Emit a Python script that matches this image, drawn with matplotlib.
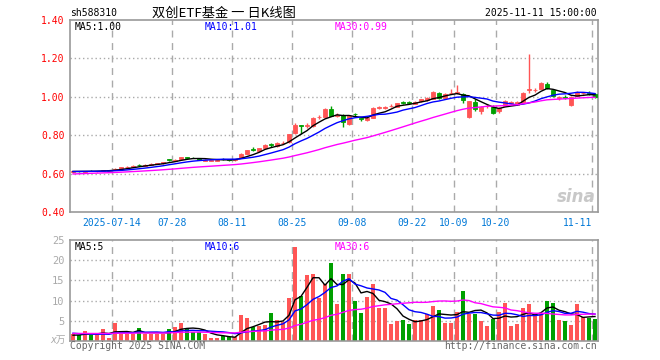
import matplotlib
matplotlib.use('Agg')
import matplotlib.pyplot as plt
import numpy as np
import pandas as pd

# trading days 2025-07-03 .. 2025-11-11 (National Day break removed)
holidays = ['2025-10-01', '2025-10-02', '2025-10-03', '2025-10-06', '2025-10-07', '2025-10-08']
dates = [d for d in pd.bdate_range('2025-07-03', '2025-11-11').strftime('%Y-%m-%d') if d not in holidays]

opens = [
    0.606, 0.612, 0.608, 0.616, 0.611, 0.613, 0.616, 0.618, 0.624, 0.634,
    0.634, 0.645, 0.642, 0.646, 0.650, 0.654, 0.674, 0.668, 0.674, 0.684,
    0.683, 0.680, 0.664, 0.666, 0.668, 0.677, 0.675, 0.671, 0.683, 0.702,
    0.727, 0.716, 0.731, 0.753, 0.742, 0.758, 0.762, 0.809, 0.851, 0.849,
    0.848, 0.893, 0.893, 0.938, 0.902, 0.905, 0.860, 0.912, 0.888, 0.877,
    0.890, 0.943, 0.942, 0.950, 0.948, 0.972, 0.971, 0.964, 0.977, 0.982,
    0.990, 1.022, 0.996, 1.018, 1.020, 1.013, 0.893, 0.973, 0.926, 0.950,
    0.949, 0.926, 0.952, 0.968, 0.958, 0.975, 1.036, 1.033, 1.043, 1.066,
    1.035, 0.994, 0.999, 0.958, 1.005, 1.018, 1.020, 1.014]
closes = [
    0.611, 0.611, 0.613, 0.614, 0.614, 0.617, 0.618, 0.625, 0.632, 0.636,
    0.641, 0.643, 0.647, 0.651, 0.655, 0.660, 0.672, 0.672, 0.685, 0.682,
    0.681, 0.673, 0.669, 0.670, 0.672, 0.675, 0.671, 0.674, 0.703, 0.721,
    0.724, 0.731, 0.750, 0.750, 0.760, 0.761, 0.805, 0.852, 0.848, 0.853,
    0.888, 0.897, 0.938, 0.902, 0.906, 0.868, 0.900, 0.909, 0.884, 0.890,
    0.943, 0.946, 0.946, 0.953, 0.966, 0.969, 0.968, 0.975, 0.988, 0.996,
    1.025, 0.996, 1.017, 1.022, 1.024, 0.985, 0.978, 0.938, 0.947, 0.953,
    0.917, 0.940, 0.978, 0.971, 0.974, 1.022, 1.040, 1.037, 1.070, 1.045,
    1.003, 0.997, 0.996, 1.000, 1.024, 1.021, 1.014, 0.998]
highs = [
    0.613, 0.616, 0.614, 0.618, 0.615, 0.618, 0.619, 0.627, 0.634, 0.640,
    0.643, 0.648, 0.649, 0.653, 0.656, 0.662, 0.678, 0.674, 0.688, 0.688,
    0.686, 0.682, 0.675, 0.672, 0.674, 0.679, 0.677, 0.676, 0.706, 0.724,
    0.738, 0.734, 0.753, 0.757, 0.762, 0.768, 0.808, 0.862, 0.853, 0.862,
    0.896, 0.905, 0.940, 0.952, 0.915, 0.908, 0.905, 0.918, 0.892, 0.894,
    0.946, 0.952, 0.950, 0.960, 0.968, 0.980, 0.976, 0.978, 0.990, 0.999,
    1.030, 1.025, 1.020, 1.040, 1.060, 1.018, 0.980, 0.987, 0.950, 0.960,
    0.955, 0.945, 0.982, 0.980, 0.978, 1.026, 1.222, 1.045, 1.075, 1.078,
    1.040, 1.003, 1.008, 1.003, 1.028, 1.027, 1.028, 1.022]
lows = [
    0.604, 0.607, 0.606, 0.612, 0.609, 0.611, 0.614, 0.617, 0.622, 0.630,
    0.632, 0.640, 0.640, 0.645, 0.648, 0.652, 0.668, 0.666, 0.672, 0.679,
    0.679, 0.670, 0.664, 0.664, 0.666, 0.670, 0.668, 0.668, 0.680, 0.700,
    0.716, 0.712, 0.728, 0.741, 0.738, 0.752, 0.758, 0.805, 0.808, 0.840,
    0.843, 0.885, 0.890, 0.898, 0.896, 0.842, 0.852, 0.895, 0.872, 0.873,
    0.888, 0.938, 0.938, 0.945, 0.946, 0.962, 0.962, 0.960, 0.974, 0.978,
    0.988, 0.990, 0.993, 1.012, 1.012, 0.970, 0.890, 0.924, 0.908, 0.940,
    0.910, 0.918, 0.950, 0.960, 0.955, 0.972, 1.022, 1.025, 1.040, 1.040,
    1.000, 0.982, 0.990, 0.953, 1.002, 1.012, 1.008, 0.993]
volumes = [
    1.8, 1.4, 2.4, 1.6, 1.6, 2.9, 0.75, 4.5, 1.8, 1.8,
    1.8, 3.2, 1.8, 1.8, 1.8, 1.8, 2.9, 3.5, 4.5, 2.9,
    2.2, 2.2, 1.7, 0.75, 0.75, 1.2, 1.0, 1.0, 6.4, 5.75,
    3.5, 3.75, 4.0, 7.0, 5.3, 4.75, 10.75, 23.25, 11.2, 16.4,
    16.7, 10.75, 14.1, 19.2, 9.2, 16.7, 16.7, 9.9, 7.0, 11.0,
    14.2, 8.25, 8.25, 4.2, 5.0, 5.2, 4.2, 5.2, 5.2, 6.7,
    8.75, 7.7, 4.5, 4.5, 7.25, 12.4, 6.8, 6.8, 5.0, 3.75,
    5.4, 7.25, 9.5, 3.75, 4.2, 8.25, 9.2, 6.7, 6.7, 10.0,
    9.5, 5.2, 4.9, 3.9, 9.2, 6.0, 5.8, 5.4]

# 29 sessions before the window, only used to seed the moving averages
hist_closes = [
    0.575, 0.578, 0.580, 0.583, 0.585, 0.584, 0.587, 0.590, 0.588, 0.592,
    0.594, 0.593, 0.596, 0.598, 0.597, 0.600, 0.602, 0.601, 0.604, 0.606,
    0.608, 0.610, 0.609, 0.611, 0.612, 0.610, 0.612, 0.613, 0.611]
hist_volumes = [
    1.9, 2.1, 1.7, 1.8, 2.2, 1.6, 1.9, 2.0, 1.5, 1.8,
    2.3, 1.7, 1.6, 1.9, 2.0, 1.8, 1.5, 1.7, 2.1, 1.9,
    2.4, 2.6, 2.2, 2.3, 2.5, 1.2, 1.4, 1.3, 1.5]

tick_dates = ['2025-07-14', '2025-07-28', '2025-08-11', '2025-08-25', '2025-09-08',
              '2025-09-22', '2025-10-09', '2025-10-20', '2025-11-11']
tick_labels = ['2025-07-14', '07-28', '08-11', '08-25', '09-08', '09-22', '10-09', '10-20', '11-11']
price_ticks = [0.40, 0.60, 0.80, 1.00, 1.20, 1.40]
vol_ticks = [5, 10, 15, 20, 25]

ma_labels = ['MA5:1.00', 'MA10:1.01', 'MA30:0.99']
vol_ma_labels = ['MA5:5', 'MA10:6', 'MA30:6']

RED = '#ff5555'
GREEN = '#00a000'
GRID = '#aaaaaa'
MONO = 'DejaVu Sans Mono'

n = len(dates)
x = np.arange(n)
o = np.array(opens); c = np.array(closes)
h = np.array(highs); l = np.array(lows)
v = np.array(volumes)
up = c >= o
cols = np.where(up, RED, GREEN)

all_c = pd.Series(hist_closes + closes)
all_v = pd.Series(hist_volumes + volumes)
ma_cols = ['black', '#0000ff', '#ff00ff']
ma_win = [5, 10, 30]

W, H = 660, 360
fig = plt.figure(figsize=(W / 100, H / 100), dpi=100)
ax = fig.add_axes([70 / W, 1 - 212 / H, 528 / W, 192 / H])
axv = fig.add_axes([70 / W, 1 - 341 / H, 528 / W, 101 / H])

def px(xp, yp):
    return xp / W, 1 - yp / H

tick_pos = [dates.index(d) - 0.5 for d in tick_dates]

for a in (ax, axv):
    a.set_xlim(-0.5, n - 0.5)
    for s in a.spines.values():
        s.set_color('#999999')
        s.set_linewidth(1.2)
    for t in tick_pos:
        a.axvline(t, color=GRID, lw=1, ls=(0, (5, 4)), zorder=0)
    a.tick_params(length=0)

# price panel
ax.set_ylim(0.4, 1.4)
for yv in price_ticks[1:-1]:
    ax.axhline(yv, color=GRID, lw=1, ls=(0, (1, 2)), zorder=0)
ax.vlines(x, l, h, colors=cols, lw=1, zorder=2)
ax.bar(x, np.abs(c - o), bottom=np.minimum(o, c), width=0.8, color=cols,
       edgecolor=cols, linewidth=0.6, zorder=3)
for w, mc in zip(ma_win, ma_cols):
    ma = all_c.rolling(w, min_periods=1).mean().to_numpy()[-n:]
    ax.plot(x, ma, color=mc, lw=1, zorder=4)
ax.set_yticks(price_ticks)
ax.set_yticklabels([f'{t:.2f}' for t in price_ticks], color='red', fontsize=7, family=MONO)
ax.set_xticks(tick_pos)
ax.set_xticklabels(tick_labels, color='#0078d7', fontsize=7, family=MONO)
ax.get_xticklabels()[-1].set_ha('right')
ax.tick_params(axis='x', pad=4)
ax.tick_params(axis='y', pad=4)
ax.text(0.995, 0.03, 'sina', transform=ax.transAxes, ha='right', va='bottom',
        fontsize=12, fontweight='bold', style='italic', color='#c8c8c8', zorder=1)

# volume panel
axv.set_ylim(0, 25)
for yv in vol_ticks[:-1]:
    axv.axhline(yv, color=GRID, lw=1, ls=(0, (1, 2)), zorder=0)
axv.bar(x, v, width=0.8, color=cols, zorder=2)
for w, mc in zip(ma_win, ma_cols):
    ma = all_v.rolling(w, min_periods=1).mean().to_numpy()[-n:]
    axv.plot(x, ma, color=mc, lw=1, zorder=3)
axv.set_xticks(tick_pos)
axv.set_xticklabels([])
axv.set_yticks(vol_ticks)
axv.set_yticklabels([str(t) for t in vol_ticks], color='#aaaaaa', fontsize=7.5, family=MONO)
axv.tick_params(axis='y', pad=4)

# header and legends
fig.text(*px(70, 13), 'sh588310', fontsize=7, family=MONO, va='center')
fig.text(*px(224, 13), '双创ETF基金 一 日K线图', fontsize=9.5, va='center', ha='center',
         family=['Noto Sans CJK SC', 'DejaVu Sans'])
fig.text(*px(597, 13), '2025-11-11 15:00:00', fontsize=7, family=MONO, va='center', ha='right')

for xp, lab, mc in zip([75, 205, 335], ma_labels, ma_cols):
    fig.text(*px(xp, 27), lab, fontsize=7, family=MONO, color=mc, va='center')
for xp, lab, mc in zip([75, 205, 335], vol_ma_labels, ma_cols):
    fig.text(*px(xp, 247), lab, fontsize=7, family=MONO, color=mc, va='center')

fig.text(*px(66, 340), 'x万', fontsize=7, color='#aaaaaa', ha='right', va='center',
         family=['DejaVu Sans', 'Noto Sans CJK SC'], style='italic')
fig.text(*px(70, 346), 'Copyright 2025 SINA.COM', fontsize=7, family=MONO, color='#666666', va='center')
fig.text(*px(597, 346), 'http://finance.sina.com.cn', fontsize=7, family=MONO, color='#666666',
         va='center', ha='right')

fig.savefig('out.png', dpi=100, facecolor='white')
